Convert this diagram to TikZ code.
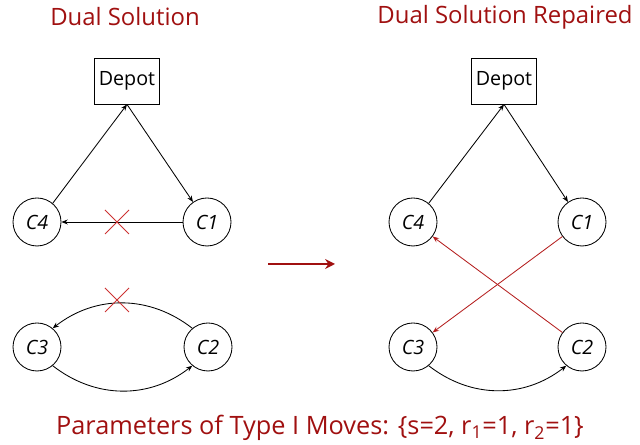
\documentclass[tikz,border=0pt]{standalone}
\usepackage{fontspec}
\setmainfont{Open Sans}
\usetikzlibrary{arrows.meta,calc}
\definecolor{titlered}{RGB}{160,16,16}
\definecolor{crossred}{RGB}{205,50,50}
\definecolor{edgered}{RGB}{180,30,30}
\begin{document}
\begin{tikzpicture}[
    depot/.style={draw, rectangle, line width=0.6pt, minimum width=1.6cm, minimum height=1.15cm, font=\fontsize{14}{16}\selectfont},
    cust/.style={draw, circle, line width=0.6pt, minimum size=1.2cm, inner sep=0pt, font=\fontsize{14}{16}\selectfont\itshape},
    edge/.style={-{Stealth[length=4.5pt,width=3.5pt]}, line width=0.6pt},
    newedge/.style={edge, edgered},
    title/.style={titlered, font=\fontsize{17}{20}\selectfont}
  ]
    \useasboundingbox (0,0) rectangle (16,11.125);

    % Titel
    \node[title] (tl) at (3.125, 10.7) {Dual Solution};
    \node[title] (tr) at (12.625, 10.7) {Dual Solution Repaired};

    % Linke Seite: Knoten
    \node[depot] (depl) at (3.175, 9.1) {Depot};
    \node[cust] (c4l) at (0.925, 5.575) {C4};
    \node[cust] (c1l) at (5.175, 5.575) {C1};
    \node[cust] (c3l) at (0.925, 2.45) {C3};
    \node[cust] (c2l) at (5.2, 2.45) {C2};

    % Linke Seite: Kanten
    \draw[edge] (c4l.50) -- (depl.south);
    \draw[edge] (depl.south) -- (c1l.125);
    \draw[edge] (c1l.west) -- (c4l.east);
    \draw[edge] (c2l.130) to[bend right=38] (c3l.50);
    \draw[edge] (c3l.-50) to[bend right=38] (c2l.230);

    % Entfernte Kanten (Kreuze)
    \coordinate (xa) at (2.925, 5.575);
    \coordinate (xb) at (2.925, 3.625);
    \foreach \p in {xa, xb} {
      \draw[crossred, line width=0.6pt] ($(\p)+(-0.3,-0.3)$) -- ($(\p)+(0.3,0.3)$);
      \draw[crossred, line width=0.6pt] ($(\p)+(-0.3,0.3)$) -- ($(\p)+(0.3,-0.3)$);
    }

    % Mittlerer Pfeil
    \coordinate (ma) at (6.7, 4.525);
    \coordinate (mb) at (8.375, 4.525);
    \draw[titlered, line width=1.8pt, -{Stealth[length=7pt,width=7pt]}] (ma) -- (mb);

    % Rechte Seite: Knoten
    \node[depot] (depr) at (12.6, 9.1) {Depot};
    \node[cust] (c4r) at (10.325, 5.575) {C4};
    \node[cust] (c1r) at (14.55, 5.575) {C1};
    \node[cust] (c3r) at (10.325, 2.45) {C3};
    \node[cust] (c2r) at (14.55, 2.45) {C2};

    % Rechte Seite: Kanten
    \draw[edge] (c4r.50) -- (depr.south);
    \draw[edge] (depr.south) -- (c1r.125);
    \draw[newedge] (c1r) -- (c3r);
    \draw[newedge] (c2r) -- (c4r);
    \draw[edge] (c3r.-50) to[bend right=38] (c2r.230);

    % Parameter
    \node[titlered, font=\fontsize{18}{21}\selectfont] (par) at (8, 0.425)
      {Parameters of Type I Moves: \{s=2, r\textsubscript{1}=1, r\textsubscript{2}=1\}};
\end{tikzpicture}
\end{document}
